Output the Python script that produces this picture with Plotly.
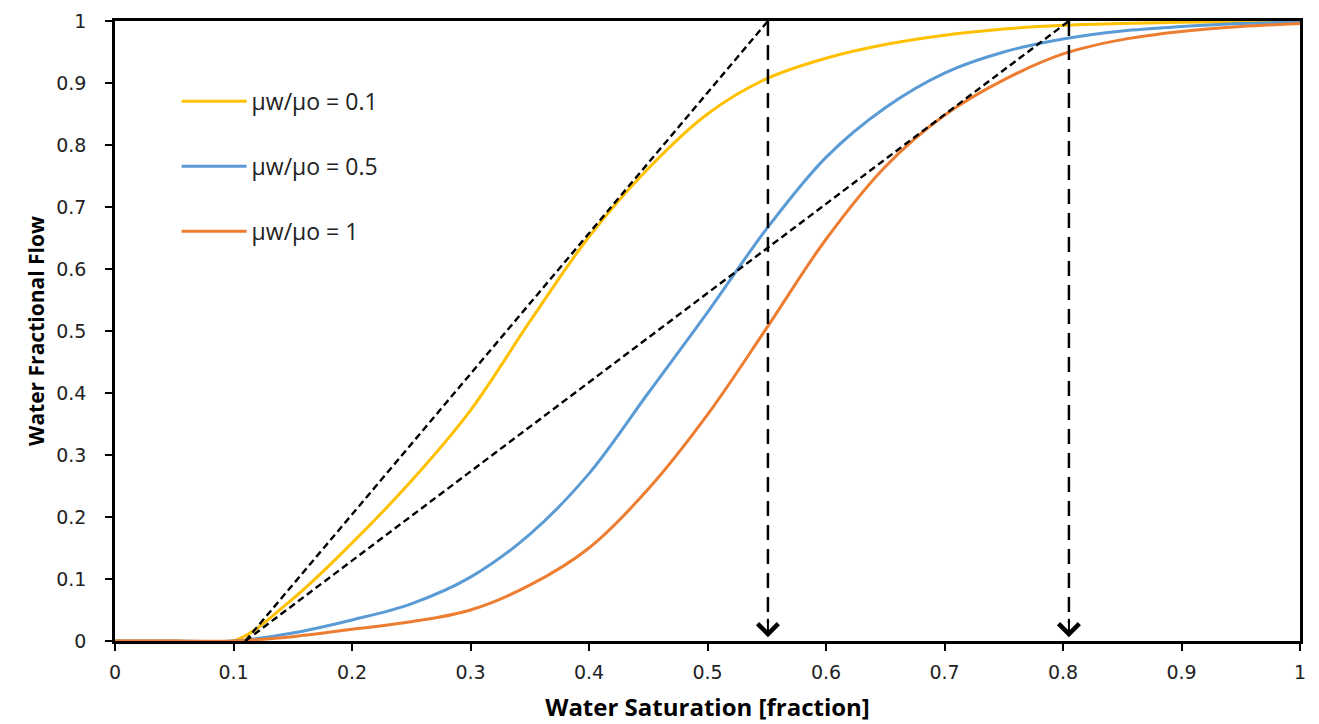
import plotly.graph_objects as go

# water saturation grid
sw = [0, 0.05, 0.1, 0.15, 0.2, 0.25, 0.3, 0.35, 0.4, 0.45, 0.5, 0.55, 0.6,
      0.65, 0.7, 0.75, 0.8, 0.85, 0.9, 0.95, 1.0]

# fractional flow curves
fw_01 = [0, 0, 0, 0.068, 0.158, 0.258, 0.372, 0.515, 0.652, 0.762, 0.85, 0.907, 0.94,
         0.962, 0.977, 0.987, 0.993, 0.996, 0.998, 0.999, 1.0]
fw_05 = [0, 0, 0, 0.013, 0.034, 0.06, 0.103, 0.172, 0.27, 0.4, 0.53, 0.665, 0.78,
         0.86, 0.916, 0.95, 0.971, 0.984, 0.991, 0.996, 0.998]
fw_1 = [0, 0, 0, 0.007, 0.019, 0.031, 0.05, 0.09, 0.15, 0.245, 0.365, 0.505, 0.648,
        0.765, 0.848, 0.905, 0.947, 0.97, 0.983, 0.991, 0.996]

names = ["\u03bcw/\u03bco = 0.1", "\u03bcw/\u03bco = 0.5", "\u03bcw/\u03bco = 1"]
colors = ["#FFC000", "#5B9BD5", "#ED7D31"]

# Welge tangents and breakthrough saturations
tan_start = 0.11
swf = [0.551, 0.805]

fig = go.Figure()

for i, fw in enumerate([fw_01, fw_05, fw_1]):
    fig.add_trace(go.Scatter(x=sw, y=fw, mode="lines", name=names[i],
                             line=dict(color=colors[i], width=3, shape="spline", smoothing=1.0),
                             legendgroup=str(i)))

for s in swf:
    fig.add_trace(go.Scatter(x=[tan_start, s], y=[0, 1], mode="lines", showlegend=False,
                             line=dict(color="black", width=2.4, dash="7px,4px")))
    fig.add_trace(go.Scatter(x=[s, s], y=[1, 0.03], mode="lines", showlegend=False,
                             line=dict(color="black", width=2.5, dash="15px,9px")))
    fig.add_annotation(x=s, y=0.006, ax=0, ay=-20, showarrow=True, text="",
                       arrowhead=4, arrowsize=2, arrowwidth=2, arrowcolor="black")

axis_common = dict(range=[0, 1], dtick=0.1, showline=True, linecolor="black", linewidth=2.5,
                   mirror=True, ticks="outside", ticklen=7, tickwidth=2, tickcolor="black",
                   showgrid=False, zeroline=False, automargin=False, ticklabeloverflow="allow",
                   tickfont=dict(family="DejaVu Sans", size=19, color="#222"))
fig.update_xaxes(**axis_common, ticklabelstandoff=5,
                 title=dict(text="Water Saturation [fraction]",
                            font=dict(family="Open Sans", size=24, color="black", weight="bold"),
                            standoff=18))
fig.update_yaxes(**axis_common, ticklabelstandoff=15,
                 title=dict(text="Water Fractional Flow",
                            font=dict(family="Open Sans", size=21, color="black", weight="bold"),
                            standoff=6))

# page body adds an 8px offset, so the figure is sized to fit the window
fig.update_layout(
    width=1311, height=716,
    margin=dict(l=107, r=19, t=13, b=83),
    plot_bgcolor="white", paper_bgcolor="white",
    legend=dict(x=0.052, y=0.905, xanchor="left", yanchor="top", tracegroupgap=32,
                itemwidth=65, bgcolor="rgba(0,0,0,0)",
                font=dict(family="Open Sans", size=23, color="#222")),
)

fig.write_html("out.html")
